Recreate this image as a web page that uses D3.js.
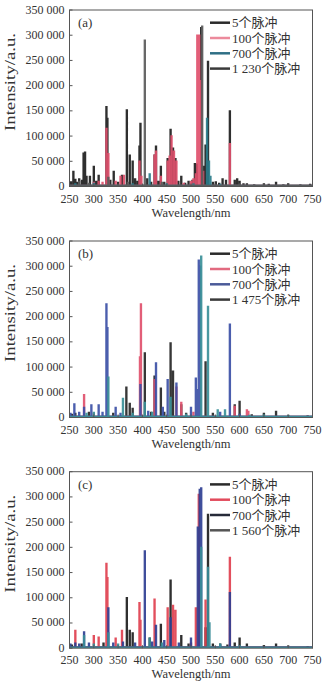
<!DOCTYPE html>
<html>
<head>
<meta charset="utf-8">
<script src="https://cdn.jsdelivr.net/npm/d3@7/dist/d3.min.js"></script>
<style>
  html, body { margin: 0; padding: 0; background: #fff; }
  svg { display: block; }
  .tick-label { font-family: "Liberation Serif", "DejaVu Serif", serif; font-size: 12px; fill: #333; }
  .axis-title { font-family: "Liberation Serif", "DejaVu Serif", serif; font-size: 12.5px; fill: #333; }
  .legend-text { font-family: "Liberation Serif", "Noto Sans CJK SC", serif; font-size: 13px; fill: #333; }
</style>
</head>
<body>
<svg id="chart" width="333" height="683"></svg>
<script>
// Axis ticks
const xTicks = [250, 300, 350, 400, 450, 500, 550, 600, 650, 700, 750];
const yTicks = [0, 50000, 100000, 150000, 200000, 250000, 300000, 350000];

// Panel labels and legend entries
const panelLabels = ["(a)", "(b)", "(c)"];
const legendA = ["5个脉冲", "100个脉冲", "700个脉冲", "1 230个脉冲"];
const legendB = ["5个脉冲", "100个脉冲", "700个脉冲", "1 475个脉冲"];
const legendC = ["5个脉冲", "100个脉冲", "700个脉冲", "1 560个脉冲"];

// Emission lines [wavelength nm, intensity a.u.] — panel (a)
const a5 = [[253,9000],[258,30000],[262,14000],[266,8000],[270,15000],[276,12000],[279,66000],[282,68000],[285,20000],[292,20000],[300,40000],[305,10000],[310,22000],[326,158000],[328,135000],[334,12000],[341,30000],[350,8000],[358,22000],[368,152000],[374,62000],[380,50000],[385,15000],[390,10000],[394,80000],[396,125000],[410,15000],[418,8000],[425,62000],[428,80000],[433,10000],[438,40000],[445,8000],[452,55000],[458,113000],[463,76000],[468,55000],[474,10000],[480,20000],[488,6000],[495,10000],[503,12000],[508,45000],[512,44000],[521,315000],[526,40000],[530,82000],[535,248000],[545,8000],[551,9000],[558,6000],[565,15000],[572,12000],[580,150000],[590,12000],[595,15000],[600,10000],[608,5000],[615,5000],[630,3000],[650,5000],[660,4000],[675,8000],[690,3000],[700,5000],[725,3000],[745,4000]];
const a100 = [[300,8000],[310,10000],[318,8000],[326,115000],[330,65000],[345,10000],[355,20000],[362,22000],[394,50000],[398,20000],[425,62000],[428,70000],[438,20000],[452,50000],[456,60000],[460,100000],[465,70000],[470,50000],[485,6000],[500,10000],[505,15000],[510,25000],[513,300000],[515,300000],[517,300000],[519,210000],[521,210000],[525,30000],[580,85000]];
const a700 = [[262,5000],[300,6000],[380,5000],[415,25000],[450,5000],[505,5000],[533,135000],[537,50000],[540,20000],[560,4000]];
const a1230 = [[270,10000],[290,6000],[330,18000],[370,8000],[405,290000],[440,8000],[523,318000],[600,4000]];

// Emission lines — panel (b)
const b5 = [[255,6000],[262,8000],[290,10000],[340,8000],[367,60000],[374,28000],[380,18000],[405,128000],[418,10000],[425,82000],[438,58000],[445,10000],[458,148000],[463,92000],[480,25000],[490,8000],[530,110000],[545,8000],[590,25000],[600,32000],[625,5000],[650,8000],[675,12000],[700,4000],[740,3000]];
const b100 = [[280,45000],[300,8000],[395,120000],[397,225000],[425,75000],[470,60000],[480,30000],[505,10000],[590,22000],[615,15000],[618,12000]];
const b700 = [[252,8000],[260,27000],[270,10000],[280,20000],[295,25000],[310,25000],[318,10000],[326,225000],[328,178000],[345,20000],[355,8000],[396,65000],[412,12000],[428,108000],[442,20000],[452,75000],[470,68000],[500,20000],[510,78000],[512,55000],[516,312000],[519,300000],[560,10000],[580,185000],[600,6000]];
const b1475 = [[285,8000],[300,10000],[330,80000],[360,38000],[380,8000],[405,30000],[420,10000],[458,40000],[490,6000],[521,320000],[535,220000],[555,15000],[570,15000],[620,4000],[650,5000],[700,3000]];

// Emission lines — panel (c)
const c5 = [[255,6000],[275,8000],[320,10000],[368,100000],[374,35000],[380,30000],[415,20000],[438,47000],[458,135000],[480,25000],[495,8000],[530,40000],[535,265000],[545,8000],[560,8000],[575,6000],[590,10000],[600,20000],[615,8000],[650,5000],[675,8000],[700,4000],[740,3000]];
const c100 = [[262,35000],[300,25000],[310,22000],[326,168000],[328,140000],[345,20000],[358,35000],[394,90000],[396,55000],[425,97000],[452,80000],[463,85000],[468,75000],[500,10000],[510,80000],[516,305000],[530,95000],[580,180000]];
const c700 = [[252,8000],[262,10000],[270,8000],[280,32000],[290,10000],[330,80000],[340,10000],[360,12000],[385,10000],[405,193000],[420,12000],[428,45000],[445,15000],[458,60000],[475,10000],[500,20000],[514,240000],[518,315000],[521,318000],[560,6000],[580,110000]];
const c1560 = [[280,25000],[300,8000],[330,30000],[350,8000],[415,20000],[440,10000],[521,200000],[535,160000],[538,50000],[560,8000],[600,5000]];

const panelSeries = [
  { label: panelLabels[0], names: legendA, data: [a5, a100, a700, a1230],
    colors: ["#1d1d1d", "#e0506c", "#2a7c8a", "#5b5b5b"], legendColors: ["#2a2a2a", "#ec8a9c", "#2f6f85", "#3a3a3a"] },
  { label: panelLabels[1], names: legendB, data: [b5, b100, b700, b1475],
    colors: ["#262626", "#e0506c", "#3c50a6", "#3b9098"], legendColors: ["#2a2a2a", "#e26a80", "#4a5a98", "#3a3a3a"] },
  { label: panelLabels[2], names: legendC, data: [c5, c100, c700, c1560],
    colors: ["#1d1d1d", "#e0404f", "#2f3f92", "#3a8c98"], legendColors: ["#2a2a2a", "#e24a5c", "#262a38", "#555555"] }
];

const panelTops = [10, 241, 471.7];
const plotH = 176.5;
const plotL = 69.5, plotR = 312.5;
const baseLevel = 2000;

const svg = d3.select("#chart");
const fmt = v => d3.format(",")(v).replace(/,/g, " ");

panelSeries.forEach((p, i) => {
  const top = panelTops[i];
  const x = d3.scaleLinear().domain([250, 750]).range([plotL, plotR]);
  const y = d3.scaleLinear().domain([0, 350000]).range([top + plotH, top]);
  const g = svg.append("g");

  const clipId = "clip" + i;
  g.append("clipPath").attr("id", clipId)
    .append("rect").attr("x", plotL).attr("y", top).attr("width", plotR - plotL).attr("height", plotH);

  const halfW = 1.0;
  const pathFor = peaks => {
    const sorted = peaks.slice().sort((m, n) => m[0] - n[0]);
    const pts = [[250, baseLevel]];
    sorted.forEach(([w, v]) => {
      pts.push([w - halfW, baseLevel], [w - halfW, v], [w + halfW, v], [w + halfW, baseLevel]);
    });
    pts.push([750, baseLevel]);
    return d3.line().x(d => x(d[0])).y(d => y(d[1]))(pts);
  };

  const plot = g.append("g").attr("clip-path", `url(#${clipId})`);
  p.data.forEach((peaks, k) => {
    plot.append("path")
      .attr("d", pathFor(peaks))
      .attr("fill", "none")
      .attr("stroke", p.colors[k])
      .attr("stroke-width", 1.4)
      .attr("stroke-opacity", 0.92)
      .attr("stroke-linejoin", "miter");
  });

  // Frame
  g.append("rect").attr("x", plotL).attr("y", top).attr("width", plotR - plotL).attr("height", plotH)
    .attr("fill", "none").attr("stroke", "#555").attr("stroke-width", 1);

  // X ticks and labels
  const xAxis = g.append("g");
  xTicks.forEach(t => {
    xAxis.append("line").attr("x1", x(t)).attr("x2", x(t)).attr("y1", top + plotH).attr("y2", top + plotH - 3)
      .attr("stroke", "#555");
    xAxis.append("text").attr("class", "tick-label").attr("x", x(t)).attr("y", top + plotH + 16)
      .attr("text-anchor", "middle").text(t);
  });
  // Y ticks and labels
  const yAxis = g.append("g");
  yTicks.forEach(t => {
    yAxis.append("line").attr("x1", plotL).attr("x2", plotL + 3).attr("y1", y(t)).attr("y2", y(t))
      .attr("stroke", "#555");
    yAxis.append("text").attr("class", "tick-label").attr("x", plotL - 5).attr("y", y(t) + 3.5)
      .attr("text-anchor", "end").text(fmt(t));
  });

  // Axis titles
  g.append("text").attr("class", "axis-title")
    .attr("x", (plotL + plotR) / 2).attr("y", top + plotH + 30)
    .attr("text-anchor", "middle").text("Wavelength/nm");
  g.append("text").attr("class", "axis-title")
    .attr("transform", `translate(15, ${top + 72}) rotate(-90)`)
    .attr("text-anchor", "middle")
    .style("font-size", "14px")
    .attr("textLength", 98).attr("lengthAdjust", "spacingAndGlyphs")
    .text("Intensity/a.u.");

  // Panel label
  g.append("text").attr("class", "axis-title").style("font-size", "13px")
    .attr("x", 78).attr("y", top + 17).text(p.label);

  // Legend
  const lg = g.append("g");
  p.names.forEach((name, k) => {
    const ly = top + 12.7 + k * 15.3;
    lg.append("line").attr("x1", 210).attr("x2", 230).attr("y1", ly).attr("y2", ly)
      .attr("stroke", p.legendColors[k]).attr("stroke-width", 2.5);
    lg.append("text").attr("class", "legend-text").attr("x", 232).attr("y", ly + 4.5).text(name);
  });
});
</script>
</body>
</html>
